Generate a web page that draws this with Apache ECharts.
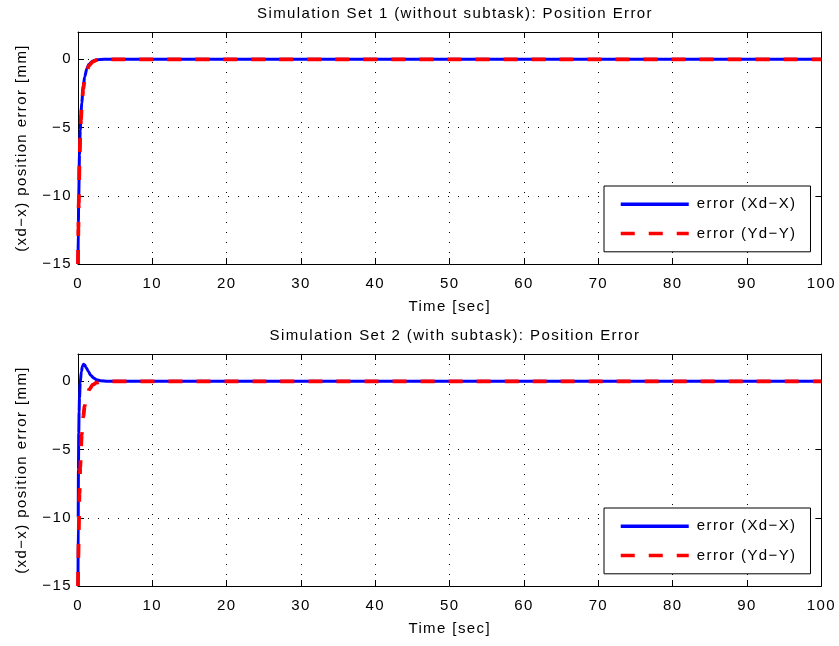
<!DOCTYPE html>
<html>
<head>
<meta charset="utf-8">
<script src="https://cdn.jsdelivr.net/npm/echarts@6/dist/echarts.min.js"></script>
<style>
  html, body { margin: 0; padding: 0; background: #fff; }
  #chart { width: 839px; height: 646px; }
</style>
</head>
<body>
<div id="chart"></div>
<script>
// Simulation set 1 (without subtask): time samples [sec] and position errors [mm]
const time1 = [0, 0.05, 0.1, 0.2, 0.3, 0.4, 0.5, 0.7, 0.9, 1.2, 1.5, 2, 2.5, 3, 4, 5, 100];
const errX1 = [-15, -12, -10, -7, -5.2, -4, -3.2, -2.0, -1.3, -0.65, -0.35, -0.12, -0.04, -0.01, 0, 0, 0];
const errY1 = [-15, -12.4, -10.6, -7.6, -5.7, -4.4, -3.5, -2.2, -1.5, -0.8, -0.45, -0.17, -0.06, -0.02, 0, 0, 0];

// Simulation set 2 (with subtask)
const time2X = [0, 0.03, 0.06, 0.1, 0.15, 0.2, 0.3, 0.45, 0.6, 0.75, 0.9, 1.1, 1.4, 1.7, 2.1, 2.5, 3, 4, 100];
const errX2 = [-15, -10, -6.5, -3.8, -2.2, -1.2, -0.1, 0.7, 1.1, 1.25, 1.2, 1.0, 0.72, 0.45, 0.25, 0.12, 0.04, 0, 0];
const time2Y = [0, 0.05, 0.1, 0.2, 0.3, 0.4, 0.5, 0.7, 0.9, 1.2, 1.5, 2, 2.5, 3, 4, 100];
const errY2 = [-15, -12.8, -11, -8.2, -6.3, -4.9, -3.9, -2.6, -1.8, -1.1, -0.6, -0.25, -0.1, -0.03, 0, 0];

const titles = [
  'Simulation Set 1 (without subtask): Position Error',
  'Simulation Set 2 (with subtask): Position Error'
];
const seriesNames = ['error (Xd\u2212X)', 'error (Yd\u2212Y)'];

// Slightly tracked-out lettering for all canvas text (drawing and measuring)
const LETTER_SPACING = '1.4px';
(function () {
  const proto = CanvasRenderingContext2D.prototype;
  ['fillText', 'strokeText', 'measureText'].forEach(fn => {
    const orig = proto[fn];
    proto[fn] = function () {
      this.letterSpacing = LETTER_SPACING;
      return orig.apply(this, arguments);
    };
  });
})();

const FONT = 'Liberation Sans, Arial, Helvetica, sans-serif';
const FS = 15;
const minus = v => String(v).replace('-', '\u2212');
const pairs = (t, v) => t.map((ti, i) => [ti, v[i]]);

const gridTops = [32, 354];
const PLOT_H = 232;
const grids = gridTops.map(top => ({ left: 78, top: top, width: 745, height: PLOT_H }));

const frameLine = { onZero: false, lineStyle: { color: '#000', width: 1 } };
const inTick = { show: true, inside: true, length: 6, lineStyle: { color: '#000' } };
const dotted = { show: true, lineStyle: { color: '#000', type: [1, 9], width: 1 } };

const xAxes = [];
const yAxes = [];
gridTops.forEach((top, g) => {
  xAxes.push({
    type: 'value', gridIndex: g, min: 0, max: 100, interval: 10,
    name: 'Time [sec]', nameLocation: 'middle', nameGap: 35,
    nameTextStyle: { fontFamily: FONT, fontSize: FS, color: '#000' },
    axisLine: frameLine, axisTick: inTick,
    axisLabel: { fontFamily: FONT, fontSize: FS, color: '#000', margin: 12, formatter: minus },
    splitLine: dotted
  });
  xAxes.push({
    type: 'value', gridIndex: g, position: 'top', min: 0, max: 100, interval: 10,
    axisLine: frameLine, axisTick: inTick,
    axisLabel: { show: false }, splitLine: { show: false }
  });
  yAxes.push({
    type: 'value', gridIndex: g, min: -15, max: 2, interval: 5,
    name: '(xd\u2212x) position error [mm]', nameLocation: 'middle', nameGap: 48,
    nameTextStyle: { fontFamily: FONT, fontSize: FS, color: '#000' },
    axisLine: Object.assign({ show: true }, frameLine), axisTick: inTick,
    axisLabel: { fontFamily: FONT, fontSize: FS, color: '#000', margin: 6, formatter: minus,
                 showMaxLabel: false, padding: [4, 0, 0, 0] },
    splitLine: dotted
  });
  yAxes.push({
    type: 'value', gridIndex: g, position: 'right', min: -15, max: 2, interval: 5,
    axisLine: Object.assign({ show: true }, frameLine), axisTick: inTick,
    axisLabel: { show: false }, splitLine: { show: false }
  });
});

const blueLine = { color: '#0000ff', width: 3 };
const redLine = { color: '#ff0000', width: 3.8, type: [14, 14] };

function line(name, g, data, style) {
  return {
    type: 'line', name: name, xAxisIndex: g * 2, yAxisIndex: g * 2,
    data: data, showSymbol: false, symbol: 'none',
    smooth: 0.3, smoothMonotone: 'x',
    lineStyle: style, itemStyle: { color: style.color },
    animation: false, z: style === redLine ? 3 : 2
  };
}

const series = [
  line(seriesNames[0], 0, pairs(time1, errX1), blueLine),
  line(seriesNames[1], 0, pairs(time1, errY1), redLine),
  line(seriesNames[0], 1, pairs(time2X, errX2), blueLine),
  line(seriesNames[1], 1, pairs(time2Y, errY2), redLine)
];

const legends = [186, 508].map(top => ({
  left: 604, top: top, orient: 'vertical',
  data: seriesNames,
  itemWidth: 68, itemHeight: 14, itemGap: 13,
  padding: [10, 14, 10, 15],
  backgroundColor: '#fff', borderColor: '#000', borderWidth: 1, borderRadius: 0,
  selectedMode: false,
  itemStyle: { opacity: 0, borderWidth: 0 },
  lineStyle: { width: 3.5 },
  textStyle: { fontFamily: FONT, fontSize: FS, color: '#000', padding: [0, 0, 0, 3] }
}));

const chart = echarts.init(document.getElementById('chart'), null, { renderer: 'canvas' });
chart.setOption({
  backgroundColor: '#fff',
  animation: false,
  title: titles.map((t, i) => ({
    text: t, left: 450, top: i === 0 ? 1 : 323, textAlign: 'center',
    textStyle: { fontFamily: FONT, fontSize: FS, fontWeight: 'normal', color: '#000' }
  })),
  grid: grids,
  xAxis: xAxes,
  yAxis: yAxes,
  legend: legends,
  series: series
});
</script>
</body>
</html>
